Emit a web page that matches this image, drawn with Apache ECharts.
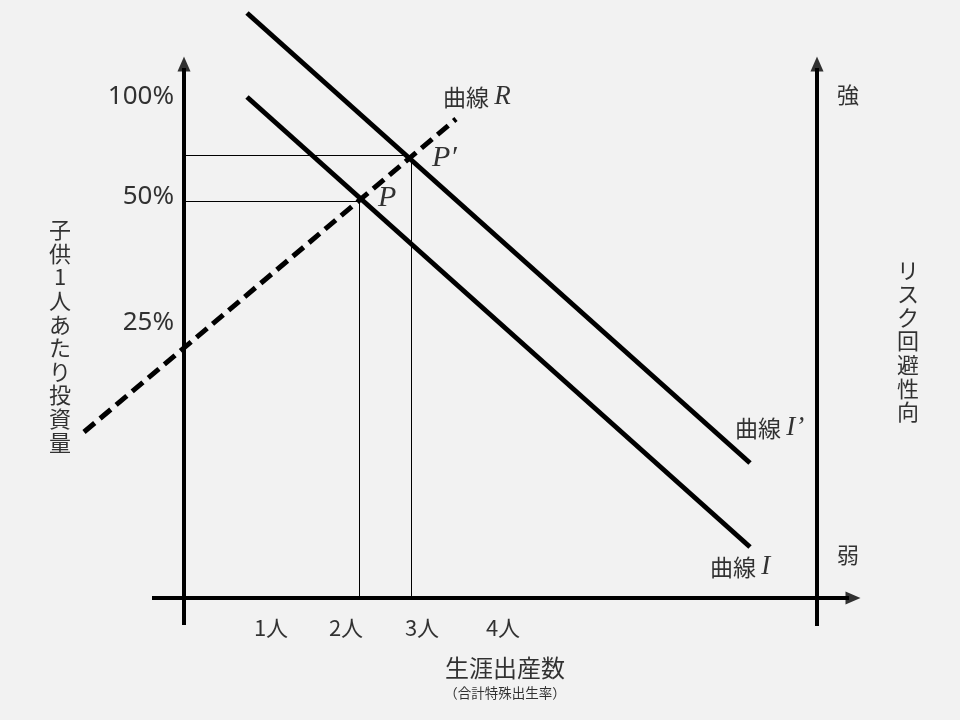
<!DOCTYPE html>
<html>
<head>
<meta charset="utf-8">
<title>リスク回避と出生率</title>
<script src="https://cdn.jsdelivr.net/npm/echarts@6/dist/echarts.min.js"></script>
<style>
    html, body { margin: 0; padding: 0; background: #f2f2f2; }
    #main { width: 960px; height: 720px; }
</style>
</head>
<body>
<div id="main"></div>
<script>
// 図の座標（原点＝縦軸と横軸の交点, 1単位＝10px）
var curveI2 = [[6.3, 58.5], [56.6, 13.5]];   // 曲線 I'
var curveI = [[6.3, 50.1], [56.6, 5.1]];     // 曲線 I
var curveR = [[-10.0, 16.6], [27.2, 47.9]];  // 曲線 R
var pointP = [17.55, 39.65];
var pointP2 = [22.75, 44.25];

var xTickLabels = ['1人', '2人', '3人', '4人'];
var xTickPos = [8.7, 16.2, 23.8, 31.9];
var yTickLabels = ['100%', '50%', '25%'];
var yTickPos = [50.1, 40.1, 27.5];

var leftAxis = [[0, -2.7], [0, 53.0]];
var bottomAxis = [[-3.2, 0], [66.5, 0]];
var rightAxis = [[63.3, -2.8], [63.3, 53.0]];
// 矢印の位置
var arrowUp = [[0, 53.4], [63.3, 53.4]];
var arrowRight = [[66.9, 0]];

var chart = echarts.init(document.getElementById('main'));

function guide(p) {
    return [[0, p[1]], [p[0], p[1]], [p[0], 0]];
}

function textSeries(items, opt) {
    return {
        type: 'scatter',
        symbolSize: 0,
        silent: true,
        data: items.map(function (it) { return { value: [it[0], it[1]], name: it[2] }; }),
        label: Object.assign({
            show: true,
            color: '#000',
            fontFamily: '"Noto Sans CJK JP"',
            fontSize: 20,
            position: 'inside',
            align: 'center',
            verticalAlign: 'middle',
            formatter: function (p) { return p.name; }
        }, opt)
    };
}

function lineSeries(data, style) {
    return { type: 'line', data: data, symbol: 'none', clip: false, silent: true, lineStyle: style };
}

var thick = { color: '#000', width: 5, cap: 'butt' };
var axisStyle = { color: '#000', width: 4, cap: 'butt' };
var thin = { color: '#000', width: 1 };
var serifI = { fontFamily: '"Liberation Serif"', fontStyle: 'italic', fontSize: 27, color: '#000' };

var option = {
    backgroundColor: '#f2f2f2',
    animation: false,
    grid: { left: 0, right: 0, top: 0, bottom: 0 },
    xAxis: { type: 'value', min: -18.4, max: 77.6, show: false },
    yAxis: { type: 'value', min: -12.2, max: 59.8, show: false },
    series: [
        lineSeries(leftAxis, axisStyle),
        lineSeries(bottomAxis, axisStyle),
        lineSeries(rightAxis, axisStyle),
        {
            type: 'scatter', data: arrowUp, symbol: 'triangle', symbolSize: [13, 15],
            silent: true, itemStyle: { color: '#000' }
        },
        {
            type: 'scatter', data: arrowRight, symbol: 'triangle', symbolSize: [13, 15], symbolRotate: -90,
            silent: true, itemStyle: { color: '#000' }
        },
        lineSeries(guide(pointP), thin),
        lineSeries(guide(pointP2), thin),
        lineSeries(curveI2, thick),
        lineSeries(curveI, thick),
        lineSeries(curveR, { color: '#000', width: 5, type: [14, 7], cap: 'butt' }),
        textSeries(xTickLabels.map(function (t, i) { return [xTickPos[i], -3.0, t]; }),
            { fontSize: 22 }),
        textSeries(yTickLabels.map(function (t, i) { return [-1.0, yTickPos[i], t]; }),
            { align: 'right', fontFamily: '"Noto Sans"', fontSize: 26 }),
        textSeries([[25.9, 50.1, '曲線 {i|R}'], [55.1, 17.0, "曲線 {i|I’}"], [52.6, 3.1, '曲線 {i|I}']],
            { align: 'left', fontSize: 23, rich: { i: serifI } }),
        textSeries([[24.8, 44.0, "P′"], [19.4, 40.0, 'P']],
            { align: 'left', fontFamily: '"Liberation Serif"', fontStyle: 'italic', fontSize: 30 }),
        textSeries([[66.4, 50.3, '強'], [66.4, 4.3, '弱']],
            { fontSize: 22 }),
        textSeries([[-12.4, 26.2, '子供1人あたり投資量'.split('').join('\n')],
                    [72.4, 25.7, 'リスク回避性向'.split('').join('\n')]],
            { fontSize: 22, lineHeight: 23.6 }),
        textSeries([[32.1, -7.0, '生涯出産数']],
            { fontSize: 24 }),
        textSeries([[32.1, -9.5, '（合計特殊出生率）']],
            { fontSize: 13.5 })
    ]
};
chart.setOption(option);
</script>
</body>
</html>
